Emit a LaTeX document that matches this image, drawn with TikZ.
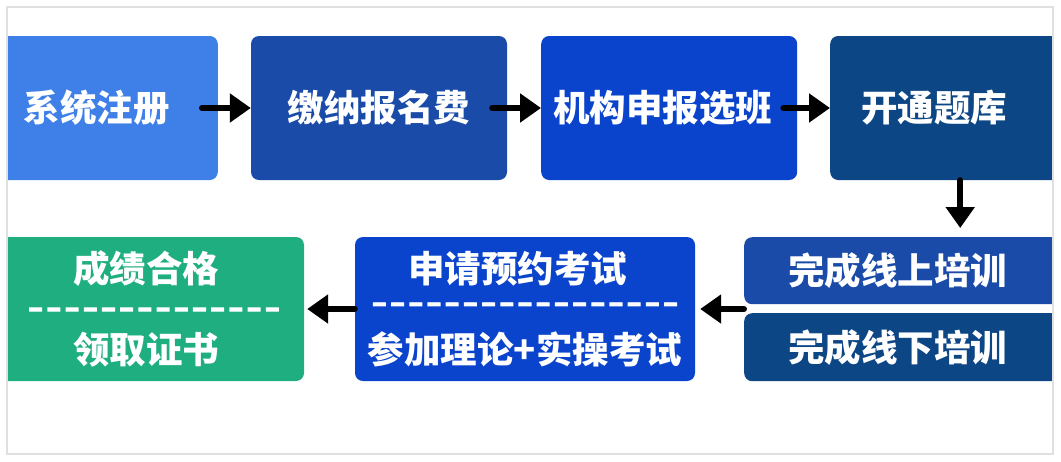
\documentclass[tikz,border=0pt]{standalone}
\usepackage{fontspec}
\IfFontExistsTF{Noto Sans CJK SC Black}
{\newfontfamily\stagefont{Noto Sans CJK SC Black}\newcommand\stageweight{}}
{\newfontfamily\stagefont{Noto Sans CJK SC}\newcommand\stageweight{\bfseries}}
\newfontfamily\dashfont{Noto Sans CJK SC}[BoldFeatures={FakeBold=3}]
\usetikzlibrary{arrows.meta}
\definecolor{skyblue}{HTML}{3F7FE8}
\definecolor{royal}{HTML}{1A4BA8}
\definecolor{vivid}{HTML}{0A43CC}
\definecolor{navy}{HTML}{0C4685}
\definecolor{jade}{HTML}{1FAE80}
% row of dashes, raised by #2
\newcommand\dashrow[2]{\smash{\raisebox{#2}{\dashfont\bfseries\fontsize{26}{28}\selectfont%
\foreach \k in {1,...,#1}{\makebox[18.2pt]{\scalebox{1.6}[1]{-}}}}}}

\begin{document}
\begin{tikzpicture}[x=1pt,y=-1pt,
stage/.style={fill=#1,rounded corners=8pt,text=white,inner sep=0pt,%
minimum height=144pt,font=\stagefont\stageweight\fontsize{36.5}{40.5}\selectfont},
flow/.style={line width=6pt,line cap=round,-{Triangle[length=21pt,width=28pt]}}]
\useasboundingbox (0,0) rectangle (1061,461);
\begin{scope}
\clip (7,7) rectangle (1053,454);
% top row
\node[stage=skyblue,anchor=east,text width=148pt,inner xsep=46pt,align=left] (signup) at (218,108) {系统注册};
\node[stage=royal,minimum width=256pt] (fee) at (379,108) {缴纳报名费};
\node[stage=vivid,anchor=west,text width=232pt,inner xsep=12pt,align=left] (classes) at (541,108) {机构申报选班};
\node[stage=navy,anchor=west,text width=198pt,inner xsep=31pt,align=left] (bank) at (830,108) {开通题库};
% bottom row
\node[stage=royal,minimum height=67pt,anchor=north west,text width=258pt,inner xsep=44pt,align=left] (online) at (744,237) {完成线上培训};
\node[stage=navy,minimum height=68pt,anchor=north west,text width=258pt,inner xsep=44pt,align=left] (offline) at (744,313) {完成线下培训};
\node[stage=vivid,minimum width=340pt,align=center] (exam) at (525,309) {申请预约考试\hspace*{15pt}\\\dashrow{17}{11pt}\\参加理论+实操考试};
\node[stage=jade,minimum width=316pt,align=center] (cert) at (146,309) {成绩合格\\\hspace*{16pt}\dashrow{14}{6pt}\\领取证书};
\end{scope}
% arrows
\draw[flow] ([xshift=-16pt]signup.east) -- (fee.west);
\draw[flow] ([xshift=-15pt]fee.east) -- (classes.west);
\draw[flow] ([xshift=-14pt]classes.east) -- (bank.west);
\draw[flow] (bank.south) -- ([yshift=9pt]bank.south |- online.north);
\draw[flow] (online.west |- exam.east) -- ([xshift=5pt]exam.east);
\draw[flow] (exam.west) -- ([xshift=3pt]cert.east);
\draw[black!12,line width=2.5pt] (7,7) rectangle (1053,454);
\end{tikzpicture}
\end{document}
